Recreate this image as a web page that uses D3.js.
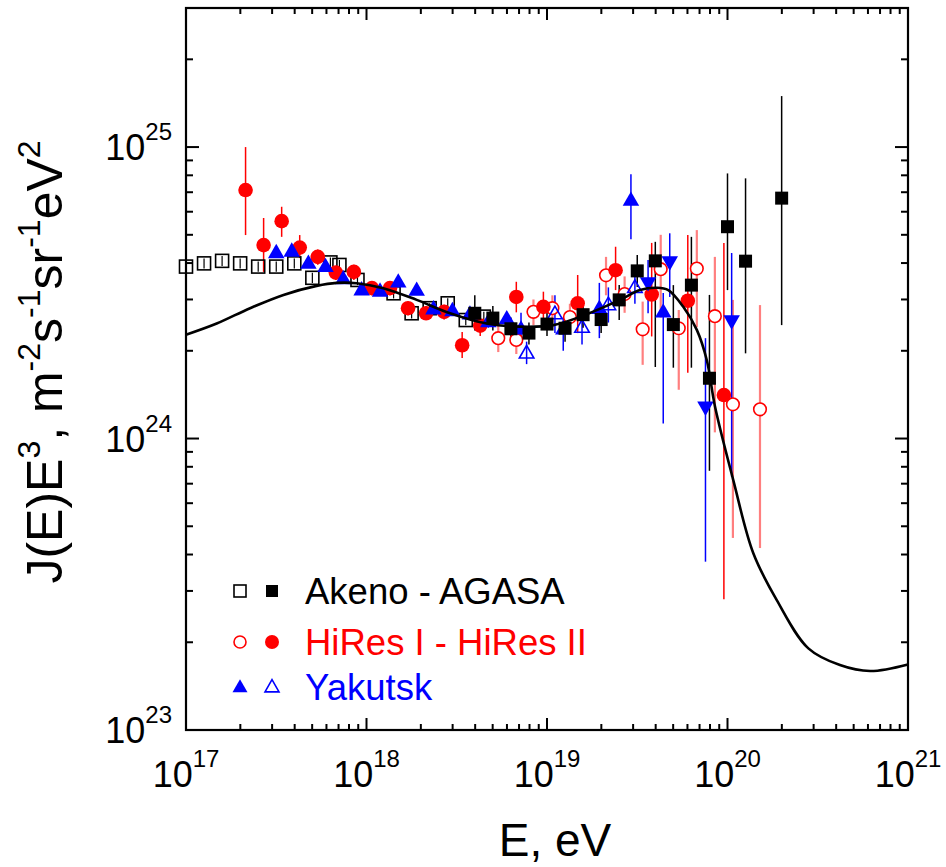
<!DOCTYPE html>
<html><head><meta charset="utf-8">
<script src="https://cdn.jsdelivr.net/npm/d3@7"></script>
<style>body{margin:0;background:#fff}svg{display:block;font-family:"Liberation Sans",Arial,sans-serif}</style>
</head><body>
<svg id="c" width="946" height="867"></svg>
<script>
// ---- data (log10 E [eV], J E^3 in units of 1e24 m^-2 s^-1 sr^-1 eV^2) ----
const akenoLogE = [17.0,17.1,17.2,17.3,17.4,17.5,17.6,17.7,17.8,17.85,17.95,18.15,18.25,18.35,18.45,18.55,18.65];
const akenoJ    = [3.89,3.99,4.07,3.99,3.89,3.89,3.99,3.56,4.02,3.94,3.50,3.15,2.69,2.80,2.91,2.55,2.62];

const agasaLogE = [18.6,18.7,18.8,18.9,19.0,19.1,19.2,19.3,19.4,19.5,19.6,19.7,19.8,19.9,20.0,20.1,20.3];
const agasaJ    = [2.69,2.59,2.38,2.30,2.47,2.39,2.66,2.56,2.99,3.76,4.07,2.46,3.36,1.61,5.33,4.06,6.68];
const agasaHi   = [3.10,2.85,2.60,2.50,2.70,2.65,2.95,2.87,3.36,4.26,4.73,3.36,4.92,3.11,8.12,7.81,14.96];
const agasaLo   = [2.35,2.35,2.15,2.10,2.25,2.15,2.40,2.30,2.55,3.31,1.76,1.75,1.75,0.775,3.23,1.96,2.45];

const hires2LogE = [17.33,17.43,17.53,17.63,17.73,17.83,17.93,18.03,18.13,18.23,18.33,18.43,18.53,18.63,18.83,18.98,19.17,19.38,19.58,19.78,19.98];
const hires2J    = [7.12,4.61,5.57,4.52,4.20,3.71,3.73,3.28,3.28,2.80,2.69,2.72,2.09,2.44,3.06,2.83,2.91,3.78,3.12,2.97,1.41];
const hires2Hi   = [10.0,5.71,6.24,4.99,4.45,3.90,3.95,3.45,3.45,2.95,2.85,2.88,2.32,2.65,3.45,3.19,3.64,4.55,4.69,4.99,4.69];
const hires2Lo   = [4.99,3.73,4.92,4.16,3.95,3.50,3.50,3.10,3.10,2.65,2.55,2.56,1.89,2.25,2.71,2.50,2.30,3.23,2.24,1.68,0.281];

const hires1LogE = [18.73,18.83,18.925,19.03,19.127,19.327,19.43,19.53,19.63,19.73,19.83,19.93,20.03,20.18];
const hires1J    = [2.21,2.18,2.72,2.80,2.61,3.63,3.13,2.37,3.81,2.39,3.83,2.63,1.31,1.26];
const hires1Hi   = [2.45,2.40,3.00,3.10,2.90,4.20,3.60,2.95,5.00,2.76,5.19,4.20,2.99,2.87];
const hires1Lo   = [1.98,1.95,2.45,2.50,2.35,3.10,2.70,1.79,2.60,1.47,2.41,1.05,0.456,0.421];

const yakFilledLogE = [17.50,17.586,17.678,17.773,17.871,17.973,18.075,18.176,18.278,18.371,18.476,18.573,18.675,18.777,18.856,19.09,19.29,19.465,19.644];
const yakFilledJ    = [4.35,4.40,4.00,3.90,3.54,3.24,3.21,3.45,3.23,2.79,2.75,2.68,2.52,2.58,2.38,2.38,2.80,6.58,2.72];
const yakFilledHi   = [4.50,4.55,4.15,4.05,3.66,3.36,3.33,3.57,3.35,2.90,2.86,2.80,2.64,2.72,2.70,2.60,3.42,8.06,3.16];
const yakFilledLo   = [4.20,4.25,3.86,3.76,3.42,3.12,3.09,3.33,3.11,2.68,2.64,2.56,2.40,2.45,2.10,2.00,2.21,4.83,1.127];

const yakOpenLogE = [18.887,19.044,19.194,19.34,19.487];
const yakOpenJ    = [1.965,2.68,2.41,2.88,3.30];
const yakOpenHi   = [2.15,3.10,2.75,3.30,3.80];
const yakOpenLo   = [1.80,2.30,2.10,2.50,2.90];

const yakDownLogE = [19.56,19.68,19.878,20.023];
const yakDownJ    = [3.42,4.03,1.28,2.53];
const yakDownHi   = [4.10,5.06,2.21,4.33];
const yakDownLo   = [2.69,3.06,0.378,0.739];

const curveLogE = [17.0,17.17,17.355,17.54,17.724,17.835,17.946,18.093,18.278,18.463,18.666,18.85,19.035,19.22,19.404,19.515,19.608,19.672,19.755,19.83,19.885,19.931,20.032,20.143,20.273,20.448,20.623,20.79,21.0];
const curveJ    = [2.27,2.48,2.80,3.11,3.34,3.42,3.41,3.28,2.99,2.69,2.48,2.42,2.45,2.67,2.99,3.23,3.29,3.23,2.83,2.36,1.86,1.285,0.72,0.404,0.279,0.1906,0.167,0.1593,0.1678];

const xMajor = [17,18,19,20,21];
const yMajor = [23,24,25];
const legendLabels = ["Akeno - AGASA","HiRes I - HiRes II","Yakutsk"];
const xTitle = "E, eV";

// ---- drawing ----
const svg = d3.select("#c");
const U = 1e24;
const x = d3.scaleLog().domain([1e17,1e21]).range([186,908]);
const y = d3.scaleLog().domain([1e23,3e25]).range([730,8]);
const X0=186,X1=908,Y0=730,Y1=8;

function pts(le, j, hi, lo){ return le.map((l,i)=>({x:x(Math.pow(10,l)), y:y(j[i]*U), hi:hi?y(hi[i]*U):null, lo:lo?y(lo[i]*U):null})); }

const akeno = pts(akenoLogE, akenoJ, akenoJ.map(v=>v*1.04), akenoJ.map(v=>v*0.96));
const agasa = pts(agasaLogE, agasaJ, agasaHi, agasaLo);
const hr2 = pts(hires2LogE, hires2J, hires2Hi, hires2Lo);
const hr1 = pts(hires1LogE, hires1J, hires1Hi, hires1Lo);
const ykf = pts(yakFilledLogE, yakFilledJ, yakFilledHi, yakFilledLo);
const yko = pts(yakOpenLogE, yakOpenJ, yakOpenHi, yakOpenLo);
const ykd = pts(yakDownLogE, yakDownJ, yakDownHi, yakDownLo);

const gErr = svg.append("g");
function errs(data, color, w){
  gErr.selectAll(null).data(data).enter().append("line")
    .attr("x1",d=>d.x).attr("x2",d=>d.x).attr("y1",d=>d.hi).attr("y2",d=>d.lo)
    .attr("stroke",color).attr("stroke-width",w);
}
errs(hr1,"#ff7f7f",2.2);
errs(hr2,"#ff0000",1.5);
errs(ykf,"#0000ff",1.5);
errs(yko,"#0000ff",1.5);
errs(ykd,"#0000ff",1.5);
errs(agasa,"#000",1.5);
errs(akeno,"#000",1.2);

function triPath(sz){ const h=sz*0.87; return `M0,${-h*0.6}L${sz/2},${h*0.4}L${-sz/2},${h*0.4}Z`; }
function triDown(sz){ const h=sz*0.87; return `M0,${h*0.6}L${sz/2},${-h*0.4}L${-sz/2},${-h*0.4}Z`; }

const gM = svg.append("g");
gM.selectAll(null).data(akeno).enter().append("rect")
  .attr("x",d=>d.x-6.5).attr("y",d=>d.y-6.5).attr("width",13).attr("height",13)
  .attr("fill","#fff").attr("fill-opacity",0).attr("stroke","#000").attr("stroke-width",1.6);
gM.selectAll(null).data(hr1).enter().append("circle")
  .attr("cx",d=>d.x).attr("cy",d=>d.y).attr("r",6.3)
  .attr("fill","#fff").attr("stroke","#ff0000").attr("stroke-width",1.6);
gM.selectAll(null).data(hr2).enter().append("circle")
  .attr("cx",d=>d.x).attr("cy",d=>d.y).attr("r",7.3).attr("fill","#ff0000");
gM.selectAll(null).data(ykf).enter().append("path")
  .attr("transform",d=>`translate(${d.x},${d.y})`).attr("d",triPath(16.5)).attr("fill","#0000ff");
gM.selectAll(null).data(yko).enter().append("path")
  .attr("transform",d=>`translate(${d.x},${d.y})`).attr("d",triPath(14.5)).attr("fill","#fff").attr("fill-opacity",0.01)
  .attr("stroke","#0000ff").attr("stroke-width",1.6);
gM.selectAll(null).data(ykd).enter().append("path")
  .attr("transform",d=>`translate(${d.x},${d.y})`).attr("d",triDown(16.5)).attr("fill","#0000ff");
gM.selectAll(null).data(agasa).enter().append("rect")
  .attr("x",d=>d.x-6.5).attr("y",d=>d.y-6.5).attr("width",13).attr("height",13).attr("fill","#000");

// curve
const line = d3.line().x(d=>x(Math.pow(10,d[0]))).y(d=>y(d[1]*U)).curve(d3.curveCatmullRom.alpha(0.5));
svg.append("path").datum(curveLogE.map((l,i)=>[l,curveJ[i]]))
  .attr("d",line).attr("fill","none").attr("stroke","#000").attr("stroke-width",2.6);

// frame
svg.append("rect").attr("x",X0).attr("y",Y1).attr("width",X1-X0).attr("height",Y0-Y1)
  .attr("fill","none").attr("stroke","#000").attr("stroke-width",2.2);

// ticks
const gT = svg.append("g").attr("stroke","#000").attr("stroke-width",2);
const xTicks=[];
for(let e=17;e<21;e++) for(let m=1;m<10;m++) xTicks.push({v:m*Math.pow(10,e),maj:m===1});
xTicks.push({v:1e21,maj:true});
xTicks.forEach(t=>{
  const px=x(t.v), L=t.maj?12:6;
  gT.append("line").attr("x1",px).attr("x2",px).attr("y1",Y0).attr("y2",Y0-L);
  gT.append("line").attr("x1",px).attr("x2",px).attr("y1",Y1).attr("y2",Y1+L);
});
const yTicks=[];
for(let e=23;e<25;e++) for(let m=1;m<10;m++) yTicks.push({v:m*Math.pow(10,e),maj:m===1});
[1,2,3].forEach(m=>yTicks.push({v:m*1e25,maj:m===1}));
yTicks.forEach(t=>{
  const py=y(t.v), L=t.maj?13:7;
  gT.append("line").attr("x1",X0).attr("x2",X0+L).attr("y1",py).attr("y2",py);
  gT.append("line").attr("x1",X1).attr("x2",X1-L).attr("y1",py).attr("y2",py);
});

// tick labels
xMajor.forEach(e=>{
  const t=svg.append("text").attr("x",x(Math.pow(10,e))).attr("y",787).attr("text-anchor","middle")
    .attr("font-size",36).attr("fill","#000");
  t.append("tspan").text("10");
  t.append("tspan").attr("dy",-20).attr("font-size",24).text(e);
});
yMajor.forEach(e=>{
  const t=svg.append("text").attr("x",172).attr("y",y(Math.pow(10,e))+13).attr("text-anchor","end")
    .attr("font-size",36).attr("fill","#000");
  t.append("tspan").text("10");
  t.append("tspan").attr("dy",-20).attr("font-size",24).text(e);
});

// axis titles
svg.append("text").attr("x",555).attr("y",856).attr("text-anchor","middle").attr("font-size",46).text(xTitle);
const yt = svg.append("text").attr("transform","translate(62,362) rotate(-90)").attr("text-anchor","middle").attr("font-size",50);
const parts=[["J(E)E",0],["3",1],[", m",0],["-2",1],["s",0],["-1",1],["sr",0],["-1",1],["eV",0],["2",1]];
let up=false;
parts.forEach(p=>{
  const ts=yt.append("tspan").text(p[0]);
  if(p[1]){ ts.attr("font-size",32).attr("dy",up?0:-22); up=true; }
  else { ts.attr("dy",up?22:0); up=false; }
});

// legend
const lg = svg.append("g");
const ly=[591,642,687];
lg.append("rect").attr("x",240-6).attr("y",ly[0]-6).attr("width",12).attr("height",12).attr("fill","none").attr("stroke","#000").attr("stroke-width",1.6);
lg.append("rect").attr("x",272-6).attr("y",ly[0]-6).attr("width",12).attr("height",12).attr("fill","#000");
lg.append("circle").attr("cx",240).attr("cy",ly[1]).attr("r",6).attr("fill","none").attr("stroke","#ff0000").attr("stroke-width",1.6);
lg.append("circle").attr("cx",272).attr("cy",ly[1]).attr("r",7).attr("fill","#ff0000");
lg.append("path").attr("transform",`translate(240,${ly[2]})`).attr("d",triPath(15)).attr("fill","#0000ff");
lg.append("path").attr("transform",`translate(272,${ly[2]})`).attr("d",triPath(14)).attr("fill","none").attr("stroke","#0000ff").attr("stroke-width",1.6);
const lc=["#000","#ff0000","#0000ff"];
legendLabels.forEach((s,i)=>{
  lg.append("text").attr("x",305).attr("y",ly[i]+13).attr("font-size",36.5).attr("fill",lc[i]).text(s);
});
</script>
</body></html>
